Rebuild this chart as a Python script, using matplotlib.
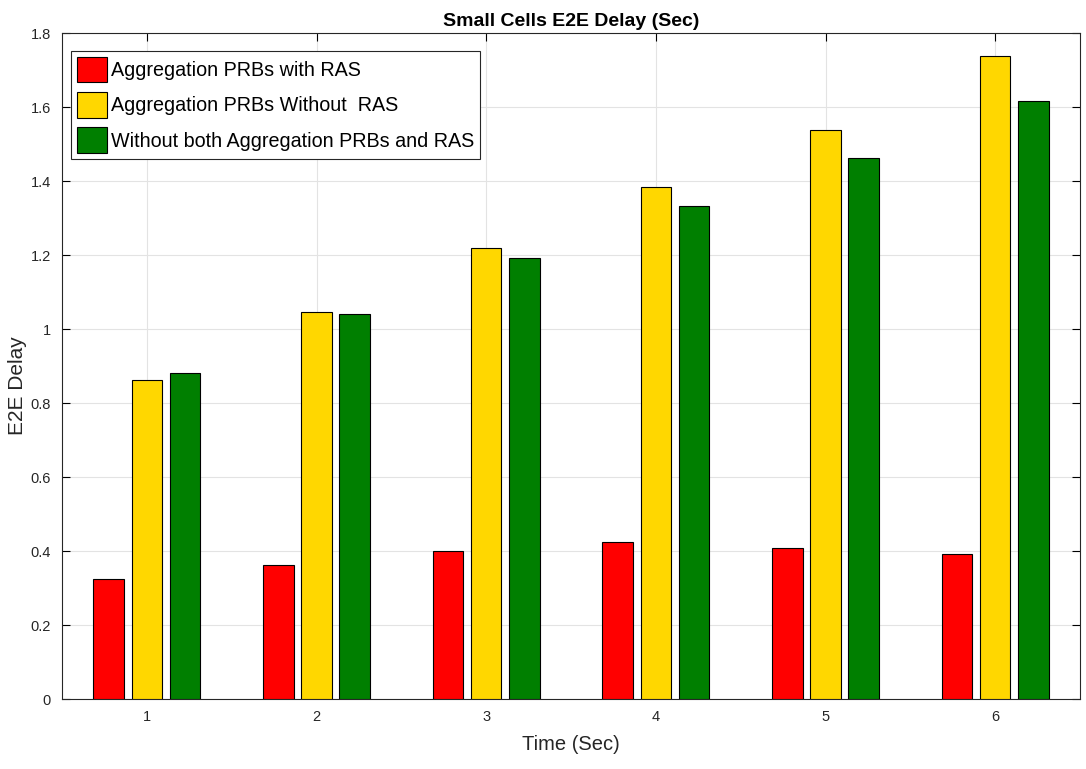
import matplotlib
matplotlib.use("Agg")
import matplotlib.pyplot as plt
import numpy as np

groups = [1, 2, 3, 4, 5, 6]
series_names = ["Aggregation PRBs with RAS",
                "Aggregation PRBs Without  RAS",
                "Without both Aggregation PRBs and RAS"]
with_ras = [0.324, 0.362, 0.400, 0.424, 0.408, 0.392]
without_ras = [0.862, 1.046, 1.219, 1.384, 1.538, 1.738]
without_both = [0.881, 1.041, 1.192, 1.332, 1.462, 1.616]
colors = ["#FF0000", "#FFD700", "#007F00"]
yticks = [0, 0.2, 0.4, 0.6, 0.8, 1.0, 1.2, 1.4, 1.6, 1.8]
ytick_labels = ["0", "0.2", "0.4", "0.6", "0.8", "1", "1.2", "1.4", "1.6", "1.8"]

plt.rcParams['font.family'] = ["Liberation Sans Narrow", "Liberation Sans", "DejaVu Sans"]

fig = plt.figure(figsize=(10.86, 7.69), dpi=100)
ax = fig.add_axes([0.0571, 0.091, 0.9374, 0.866])

x = np.array(groups, dtype=float)
w = 0.18
offs = [-0.225, 0.0, 0.225]
for vals, off, c, name in zip([with_ras, without_ras, without_both], offs, colors, series_names):
    ax.bar(x + off, vals, width=w, color=c, edgecolor="black", linewidth=0.8, label=name, zorder=3)

ax.set_xlim(0.5, 6.5)
ax.set_ylim(0, 1.8)
ax.set_xticks(groups)
ax.set_xticklabels([str(g) for g in groups], fontsize=10.5, color="#262626")
ax.set_yticks(yticks)
ax.set_yticklabels(ytick_labels, fontsize=10.5, color="#262626")
ax.tick_params(direction="in", top=True, right=True, length=6, width=0.8, pad=8)
ax.grid(True, color="#e3e3e3", linewidth=0.8, zorder=0)
ax.set_axisbelow(True)
for s in ax.spines.values():
    s.set_linewidth(0.8)
    s.set_color("#262626")

ax.set_title("Small Cells E2E Delay (Sec)", fontsize=14, fontweight="bold", pad=5)
ax.set_xlabel("Time (Sec)", fontsize=14.5, labelpad=8, color="#262626")
ax.set_ylabel("E2E Delay", fontsize=15, family=["Liberation Sans", "DejaVu Sans"], color="#262626")
ax.yaxis.set_label_coords(-0.034, 0.47)

leg = ax.legend(loc="upper left", bbox_to_anchor=(0.009, 0.973), fontsize=14.2,
                fancybox=False, framealpha=1, edgecolor="#262626",
                handlelength=1.5, handleheight=1.6, handletextpad=0.2,
                borderpad=0.3, labelspacing=0.5, borderaxespad=0)
leg.get_frame().set_linewidth(0.8)

fig.savefig("out.png", dpi=100)
